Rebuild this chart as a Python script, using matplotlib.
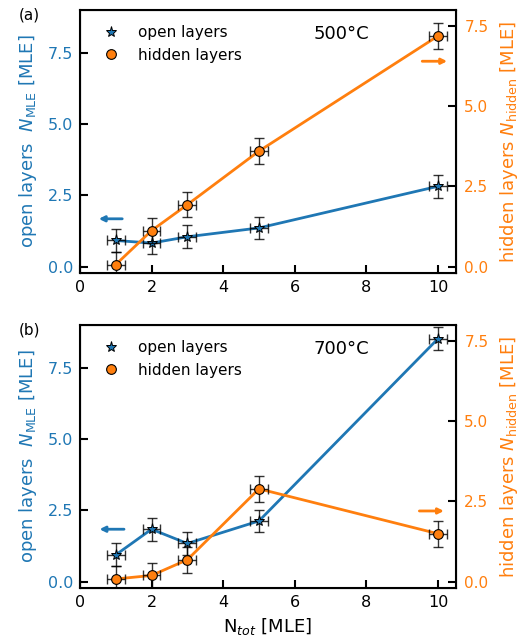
import matplotlib.pyplot as plt
from matplotlib.lines import Line2D

n_tot = [1, 2, 3, 5, 10]
open_500 = [0.92, 0.83, 1.05, 1.36, 2.82]
hidden_500 = [0.06, 1.12, 1.93, 3.6, 7.19]
open_700 = [0.94, 1.84, 1.34, 2.13, 8.52]
hidden_700 = [0.08, 0.19, 0.68, 2.89, 1.49]
x_err = 0.25
y_err = 0.4
temps = ["500°C", "700°C"]
panels = ["(a)", "(b)"]
arrows = [((1.26, 0.45, 1.68), (9.48, 10.33, 6.4)),
          ((1.31, 0.47, 1.84), (9.4, 10.24, 2.2))]

blue = "#1f77b4"
orange = "#ff7f0e"

fig = plt.figure(figsize=(5.29, 6.44), dpi=100)
boxes = [[0.151, 0.5756, 0.711, 0.409], [0.151, 0.0865, 0.711, 0.409]]
data = [(open_500, hidden_500), (open_700, hidden_700)]

for i in range(2):
    ax = fig.add_axes(boxes[i])
    ax2 = ax.twinx()
    op, hid = data[i]

    ax.plot(n_tot, op, color=blue, lw=2, zorder=2)
    ax.errorbar(n_tot, op, xerr=x_err, yerr=y_err, fmt="none", ecolor="k",
                elinewidth=1, capsize=3.5, capthick=1, alpha=0.8, zorder=4)
    ax.plot(n_tot, op, ls="", marker="*", ms=8, mfc=blue, mec="k", mew=0.7, zorder=5)

    ax2.plot(n_tot, hid, color=orange, lw=2, zorder=2)
    ax2.errorbar(n_tot, hid, xerr=x_err, yerr=y_err, fmt="none", ecolor="k",
                 elinewidth=1, capsize=3.5, capthick=1, alpha=0.8, zorder=4)
    ax2.plot(n_tot, hid, ls="", marker="o", ms=7, mfc=orange, mec="k", mew=0.8, zorder=5)

    ax.set_xlim(0, 10.5)
    ax.set_ylim(-0.23, 9.0)
    ax2.set_ylim(-0.21, 8.0)
    ax.set_xticks([0, 2, 4, 6, 8, 10])
    ax.set_yticks([0, 2.5, 5, 7.5])
    ax2.set_yticks([0, 2.5, 5, 7.5])
    ax.yaxis.set_major_formatter(plt.FormatStrFormatter("%.1f"))
    ax2.yaxis.set_major_formatter(plt.FormatStrFormatter("%.1f"))

    ax.tick_params(axis="both", direction="in", length=6, width=1.5, labelsize=11.5, pad=5)
    ax.tick_params(axis="y", labelcolor=blue)
    ax2.tick_params(axis="y", direction="in", length=6, width=1.5, labelsize=11,
                    labelcolor=orange, pad=6)
    for sp in ax2.spines.values():
        sp.set_linewidth(1.5)

    ax.set_ylabel("open layers  $N_{\\rm MLE}$ [MLE]", color=blue, fontsize=13, labelpad=6)
    ax2.set_ylabel("hidden layers $N_{\\rm hidden}$ [MLE]", color=orange, fontsize=13, labelpad=7)

    la, ra = arrows[i]
    ax.annotate("", xy=(la[1], la[2]), xytext=(la[0], la[2]),
                arrowprops=dict(arrowstyle="-|>", color=blue, lw=2, mutation_scale=8))
    ax2.annotate("", xy=(ra[1], ra[2]), xytext=(ra[0], ra[2]),
                 arrowprops=dict(arrowstyle="-|>", color=orange, lw=2, mutation_scale=8))

    handles = [Line2D([], [], ls="", marker="*", ms=8, mfc=blue, mec="k", mew=0.7),
               Line2D([], [], ls="", marker="o", ms=7, mfc=orange, mec="k", mew=0.8)]
    ax2.legend(handles, ["open layers", "hidden layers"], loc="upper left",
               frameon=False, fontsize=11, handletextpad=0.8,
               bbox_to_anchor=(0.005, 0.995))
    ax.text(0.62, 0.91, temps[i], transform=ax.transAxes, fontsize=13, va="center")
    fig.text(0.035, 0.976 if i == 0 else 0.488, panels[i], fontsize=11, va="center")

    if i == 1:
        ax.set_xlabel("N$_{tot}$ [MLE]", fontsize=13)

fig.savefig("out.png", dpi=100)
